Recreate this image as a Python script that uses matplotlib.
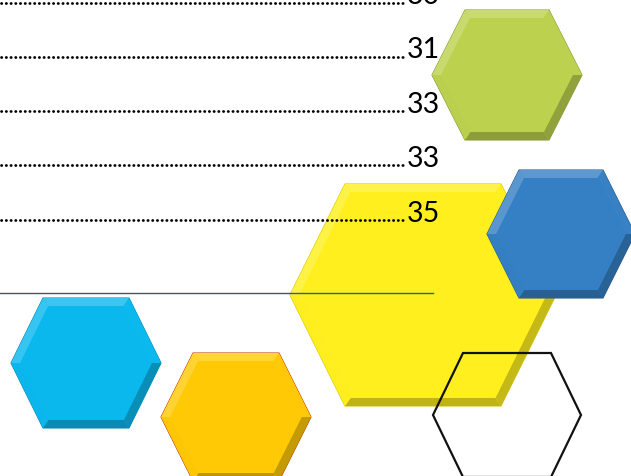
import matplotlib
matplotlib.use("Agg")
import matplotlib.pyplot as plt
from matplotlib.patches import Polygon
import numpy as np

# The values shown next to the dotted leader lines (top one is cut off).
values = [30, 31, 33, 33, 35]
labels = [str(v) for v in values]

# Hexagon fill colours and edge colours.
hex_names = ["green", "blue", "yellow", "cyan", "orange", "outline"]
hex_fill = ["#BCD14E", "#3580C4", "#FFEF1F", "#0AB8EE", "#FFC905", "none"]
hex_edge = ["#8C9A3A", "#2A5F8E", "#D9C800", "#0A8CB4", "#C8420C", "#111111"]

# Layout in pixels (center x, center y, half width, half height, half top edge).
hex_geom = {
    "green":   (507, 75, 75, 65, 42),
    "blue":    (561, 234, 74, 64, 42),
    "yellow":  (423, 295, 133, 111, 78),
    "cyan":    (86, 363, 75, 65, 43),
    "orange":  (236, 417, 75, 64, 43),
    "outline": (507, 415, 74, 62, 44),
}
hex_z = {"yellow": 1, "green": 2, "blue": 2, "cyan": 2, "orange": 2, "outline": 3}

W, H = 631, 476
fig = plt.figure(figsize=(W / 100, H / 100), dpi=100)
ax = fig.add_axes([0, 0, 1, 1])
ax.set_xlim(0, W)
ax.set_ylim(H, 0)
ax.axis("off")


def hex_pts(cx, cy, a, b, c):
    return np.array([
        (cx - a, cy), (cx - c, cy - b), (cx + c, cy - b),
        (cx + a, cy), (cx + c, cy + b), (cx - c, cy + b),
    ])


def shade(color, amt):
    rgb = np.array(matplotlib.colors.to_rgb(color))
    if amt > 0:
        return tuple(rgb + (1 - rgb) * amt)
    return tuple(rgb * (1 + amt))


light = np.array([-0.45, -0.89])
for name, fill, edge in zip(hex_names, hex_fill, hex_edge):
    cx, cy, a, b, c = hex_geom[name]
    pts = hex_pts(cx, cy, a, b, c)
    z = hex_z[name]
    if fill == "none":
        ax.add_patch(Polygon(pts, closed=True, fill=False, edgecolor=edge,
                             linewidth=1.6, zorder=z))
        continue
    ax.add_patch(Polygon(pts, closed=True, facecolor=fill, edgecolor=edge,
                         linewidth=0.8, zorder=z))
    # bevel facets
    d = 8
    s = 1 - d / b
    inner = np.array([cx, cy]) + (pts - np.array([cx, cy])) * s
    for i in range(6):
        j = (i + 1) % 6
        p, q = pts[i], pts[j]
        mid = (p + q) / 2 - np.array([cx, cy])
        n = mid / np.linalg.norm(mid)
        amt = float(np.dot(n, light))
        col = shade(fill, 0.22 * amt if amt > 0 else 0.28 * amt)
        quad = [p, q, inner[j], inner[i]]
        ax.add_patch(Polygon(quad, closed=True, facecolor=col,
                             edgecolor="none", zorder=z))
    ax.add_patch(Polygon(inner, closed=True, facecolor=fill,
                         edgecolor="none", zorder=z))

# Dotted leader lines with the numbers.
ys = [4.5, 58.5, 113, 167, 221.5]
for y, lab in zip(ys, labels):
    ax.plot([1, 403], [y - 2, y - 2], color="black", linewidth=2.0,
            linestyle=(0, (0.1, 1.6)), dash_capstyle="round", zorder=4)
    ax.text(407, y, lab, fontsize=20.5, family="Lato", color="black",
            ha="left", va="baseline", zorder=5)

# Thin horizontal rule.
ax.plot([0, 433], [293, 293], color="#2C5B88", linewidth=1.0, zorder=4)

fig.savefig("out.png", dpi=100)
